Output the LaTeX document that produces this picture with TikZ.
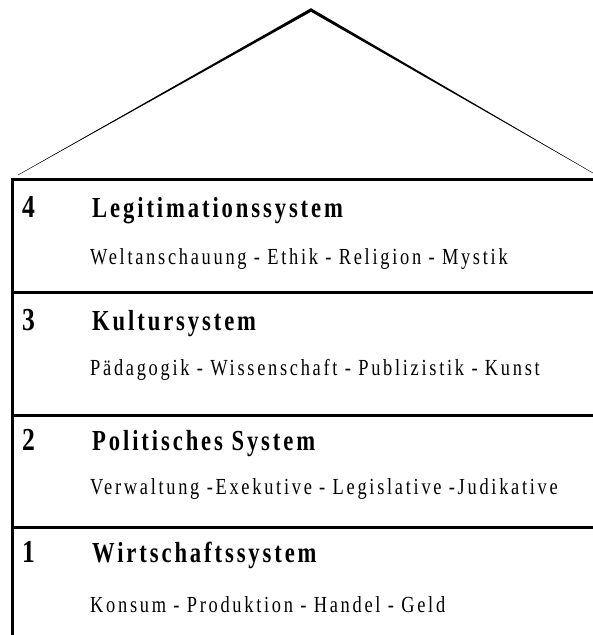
\documentclass[tikz,border=0pt]{standalone}
\usepackage{fontspec}
\newfontfamily\rownumfont{Liberation Serif}[FakeStretch=0.8]
\newfontfamily\rowtitlefont{Liberation Serif}[FakeStretch=0.78,LetterSpace=10]
\newfontfamily\rowdescfont{Liberation Serif}[FakeStretch=0.8,LetterSpace=11.8]

\begin{document}
\begin{tikzpicture}[x=1pt, y=-1pt,
 wall/.style={black, line width=3},
 num/.style={anchor=base west, inner sep=0, font=\rownumfont\bfseries\fontsize{32}{32}\selectfont},
 title/.style={anchor=base west, inner sep=0, font=\rowtitlefont\bfseries\fontsize{29}{29}\selectfont},
 desc/.style={anchor=base west, inner sep=0, font=\rowdescfont\fontsize{23}{23}\selectfont}]
\useasboundingbox (0,0) rectangle (593,635);
% roof
\coordinate (roofL) at (18,175);
\coordinate (apex) at (311,10);
\coordinate (roofR) at (593,173);
\fill[black] (roofL) -- ([yshift=1.8]apex) -- (roofR) -- ([yshift=-1.8]apex) -- cycle;
\draw[black, line width=.3] (roofL) -- (apex) -- (roofR);
% house
\draw[wall, line cap=rect] (12,635) -- (12,179);
\foreach \top/\base/\sub/\n/\name/\desc in {
 179/217/264/4/Legitimationssystem/Weltanschauung - Ethik - Religion - Mystik,
 292/330/375/3/Kultursystem/Pädagogik - Wissenschaft - Publizistik - Kunst,
 415/450/494/2/Politisches System/Verwaltung -Exekutive - Legislative -Judikative,
 527/562/612/1/Wirtschaftssystem/Konsum - Produktion - Handel - Geld} {
 \draw[wall] (12,\top) -- (593,\top);
 \node[num] (num\n) at (22,\base) {\n};
 \node[title] (title\n) at (92,\base) {\name};
 \node[desc] (desc\n) at (90,\sub) {\desc};
}
\end{tikzpicture}
\end{document}
